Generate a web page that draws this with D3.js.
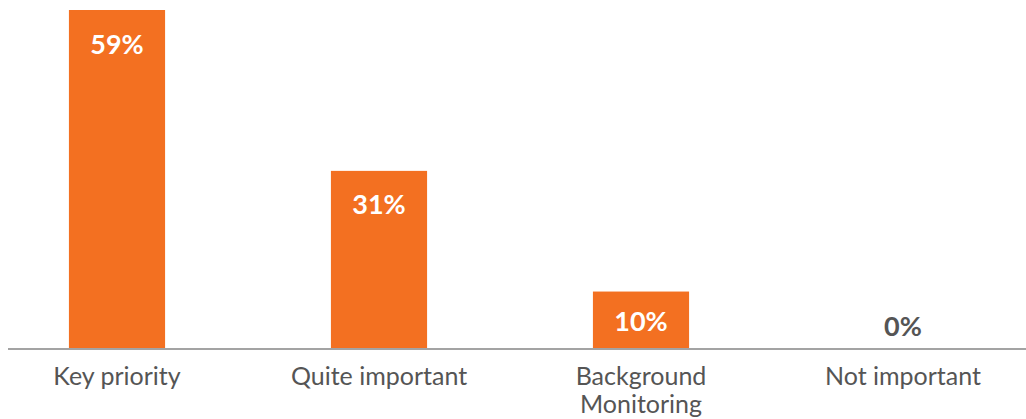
<!DOCTYPE html>
<html>
<head>
<meta charset="utf-8">
<script src="https://cdn.jsdelivr.net/npm/d3@7"></script>
<style>
  html, body { margin: 0; padding: 0; background: #ffffff; }
  svg { display: block; }
</style>
</head>
<body>
<svg id="chart" width="1026" height="419"></svg>
<script>
// Share of respondents by importance level
const categories = ["Key priority", "Quite important", "Background Monitoring", "Not important"];
const categoryLines = [["Key priority"], ["Quite important"], ["Background", "Monitoring"], ["Not important"]];
const values = [59, 31, 10, 0];

const width = 1026, height = 419;
const baseY = 349, topY = 10;
const svg = d3.select("#chart");

const x = d3.scaleBand()
  .domain(categories)
  .range([-14, 1034])
  .paddingInner(0.633)
  .paddingOuter(0.3165);

const y = d3.scaleLinear()
  .domain([0, 59])
  .range([baseY, topY]);

// Bars
svg.append("g")
  .selectAll("rect")
  .data(values)
  .join("rect")
  .attr("x", (d, i) => x(categories[i]))
  .attr("y", d => y(d))
  .attr("width", x.bandwidth())
  .attr("height", d => baseY - y(d))
  .attr("fill", "#f37021");

// Baseline axis
svg.append("line")
  .attr("x1", 8).attr("x2", width)
  .attr("y1", baseY).attr("y2", baseY)
  .attr("stroke", "#a3a3a3")
  .attr("stroke-width", 2);

// Value labels
svg.append("g")
  .selectAll("text")
  .data(values)
  .join("text")
  .attr("x", (d, i) => x(categories[i]) + x.bandwidth() / 2)
  .attr("y", d => {
    if (d === 0) return baseY - 24;
    const top = y(d);
    return Math.min(top + 33, (top + baseY) / 2);
  })
  .attr("text-anchor", "middle")
  .attr("dominant-baseline", "central")
  .attr("font-family", "Lato, sans-serif")
  .attr("font-weight", "bold")
  .attr("font-size", 27)
  .attr("fill", d => d === 0 ? "#555555" : "#ffffff")
  .text(d => d + "%");

// Category labels
const cat = svg.append("g")
  .selectAll("text")
  .data(categoryLines)
  .join("text")
  .attr("x", (d, i) => x(categories[i]) + x.bandwidth() / 2)
  .attr("y", 385)
  .attr("text-anchor", "middle")
  .attr("font-family", "Lato, sans-serif")
  .attr("font-size", 25)
  .attr("fill", "#555555");

cat.selectAll("tspan")
  .data(d => d)
  .join("tspan")
  .attr("x", function () { return this.parentNode.getAttribute("x"); })
  .attr("dy", (d, i) => i === 0 ? 0 : 28)
  .text(d => d);
</script>
</body>
</html>
